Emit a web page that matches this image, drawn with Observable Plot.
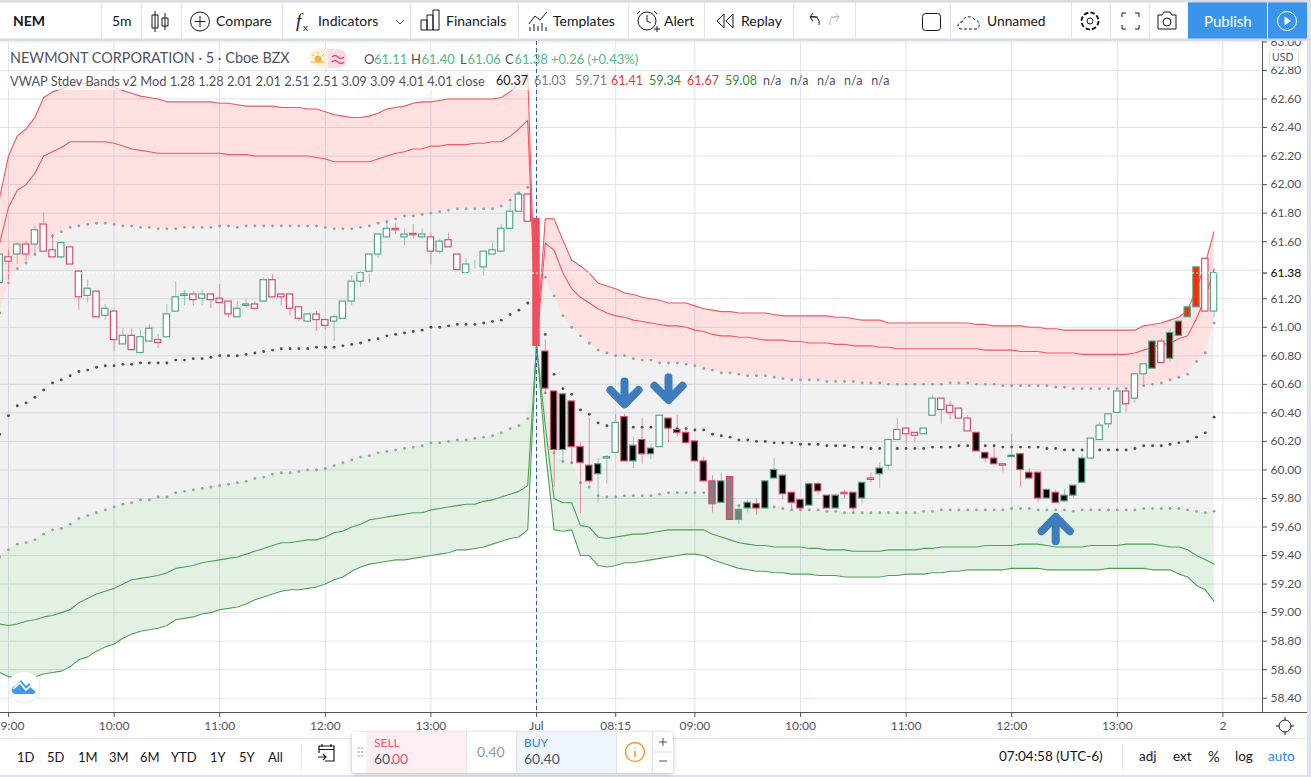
<!DOCTYPE html>
<html><head><meta charset="utf-8">
<script src="https://cdn.jsdelivr.net/npm/d3@7"></script>
<script src="https://cdn.jsdelivr.net/npm/@observablehq/plot@0.6"></script>
<style>
html,body{margin:0;padding:0;background:#e0e3eb;overflow:hidden}
#page{position:relative;width:1311px;height:777px;font-family:Lato,"Noto Sans",sans-serif;color:#131722;overflow:hidden}
.t{position:absolute;white-space:pre;line-height:1}
.box{position:absolute}
#chart{position:absolute;left:0;top:41px;width:1311px;height:697px;overflow:hidden}
</style></head><body><div id="page">
<div class="box" style="left:0;top:2px;width:1311px;height:37px;background:#fff"></div>
<div class="box" style="left:0;top:738px;width:1311px;height:37px;background:#fff"></div>
<div id="chart"></div>
<div class="box" style="left:1307px;top:0;width:4px;height:777px;background:#e0e3eb"></div>
</div>
<script>
const barIndex = d3.range(-61, 78);
const open = [61.31,61.49,61.51,61.58,61.58,61.72,61.54,61.49,61.56,61.39,61.22,61.25,61.08,61.11,60.88,60.94,60.82,60.90,60.91,60.93,61.11,61.22,61.23,61.20,61.23,61.20,61.18,61.07,61.15,61.16,61.18,
61.33,61.23,61.23,61.14,61.04,61.09,61.05,61.04,61.06,61.18,61.32,61.39,61.51,61.63,61.69,61.63,61.655,61.63,61.63,61.53,61.61,61.51,61.38,61.44,61.42,61.51,61.53,61.69,61.81,61.93,
61.76,60.83,60.55,60.14,60.48,60.16,60.03,59.97,60.08,60.12,60.37,60.06,60.21,60.11,60.16,60.36,60.28,60.26,60.20,60.06,59.92,59.77,59.95,59.65,59.73,59.76,59.73,59.94,59.96,59.84,59.79,59.75,59.90,59.82,59.73,59.84,59.84,59.80,59.94,59.97,
60.03,60.21,60.29,60.26,60.25,60.38,60.50,60.45,60.43,60.36,60.26,60.12,60.08,60.04,60.09,60.11,59.98,59.98,59.80,59.84,59.78,59.82,59.91,60.08,60.21,60.32,60.40,60.55,60.50,60.67,60.71,60.90,60.78,60.94,61.07,61.14,61.48,61.11];
const high = [61.51,61.54,61.59,61.60,61.71,61.80,61.65,61.60,61.56,61.39,61.33,61.25,61.16,61.11,60.99,60.99,60.98,61.02,60.95,61.16,61.32,61.26,61.25,61.26,61.23,61.30,61.18,61.18,61.20,61.18,61.34,
61.37,61.23,61.23,61.14,61.09,61.11,61.05,61.09,61.18,61.36,61.39,61.51,61.65,61.74,61.73,61.69,61.72,61.69,61.66,61.62,61.66,61.51,61.48,61.47,61.53,61.59,61.72,61.87,61.95,61.93,
61.76,60.91,60.55,60.53,60.48,60.19,60.36,60.08,60.10,60.39,60.39,60.23,60.36,60.18,60.38,60.36,60.38,60.29,60.20,60.09,59.96,59.98,59.95,59.76,59.79,59.80,59.92,60.08,59.96,59.84,59.79,59.91,59.91,59.82,59.83,59.86,59.84,59.91,59.98,60.05,
60.21,60.36,60.29,60.26,60.29,60.52,60.50,60.48,60.43,60.38,60.26,60.12,60.16,60.04,60.25,60.11,60.01,59.98,59.86,59.86,59.86,59.89,60.11,60.22,60.33,60.39,60.55,60.55,60.67,60.74,60.90,60.92,60.99,61.04,61.15,61.42,61.48,61.40];
const low = [61.31,61.33,61.44,61.46,61.51,61.53,61.49,61.48,61.44,61.12,61.17,61.07,61.05,60.83,60.88,60.83,60.81,60.90,60.85,60.93,61.11,61.15,61.15,61.15,61.13,61.17,61.06,61.07,61.13,61.13,61.18,
61.21,61.15,61.08,61.04,61.04,60.97,60.98,60.90,61.06,61.15,61.28,61.31,61.48,61.63,61.65,61.57,61.62,61.62,61.44,61.51,61.56,61.40,61.38,61.41,61.36,61.51,61.53,61.69,61.81,61.74,
60.87,60.53,59.88,60.05,60.04,59.69,59.90,59.77,59.90,60.12,60.06,60.01,60.04,60.07,60.16,60.19,60.23,60.18,60.06,59.92,59.70,59.77,59.65,59.62,59.70,59.68,59.73,59.94,59.79,59.72,59.71,59.75,59.82,59.73,59.73,59.80,59.69,59.76,59.91,59.87,
60.00,60.21,60.18,60.19,60.25,60.38,60.32,60.35,60.36,60.27,60.13,60.05,60.04,59.98,60.09,59.88,59.94,59.77,59.80,59.77,59.77,59.80,59.91,60.07,60.21,60.29,60.40,60.40,60.47,60.59,60.71,60.75,60.75,60.94,61.07,61.14,61.11,61.06];
const close = [61.51,61.46,61.58,61.51,61.68,61.53,61.49,61.59,61.44,61.21,61.27,61.07,61.13,60.91,60.94,60.84,60.93,60.99,60.89,61.09,61.21,61.23,61.19,61.23,61.19,61.17,61.09,61.13,61.16,61.13,61.33,
61.21,61.21,61.13,61.06,61.09,61.05,61.01,61.07,61.18,61.32,61.38,61.51,61.65,61.69,61.68,61.65,61.645,61.65,61.53,61.60,61.56,61.40,61.44,61.44,61.53,61.54,61.69,61.81,61.93,61.74,
60.87,60.57,60.14,60.53,60.16,60.05,59.92,60.04,60.09,60.33,60.06,60.17,60.11,60.15,60.38,60.29,60.26,60.19,60.06,59.92,59.76,59.92,59.65,59.72,59.77,59.73,59.92,60.00,59.83,59.77,59.73,59.90,59.85,59.73,59.82,59.83,59.73,59.91,59.93,60.01,
60.21,60.28,60.25,60.24,60.29,60.50,60.42,60.40,60.36,60.27,60.13,60.08,60.04,60.03,60.10,60.00,59.94,59.80,59.86,59.77,59.82,59.89,60.08,60.22,60.31,60.39,60.55,60.46,60.67,60.74,60.90,60.75,60.96,61.04,61.14,61.42,61.11,61.38];
const bodyPaint = [...Array(61).fill("hollow"),"flat",...Array(7).fill("black"),"hollow","hollow",...Array(4).fill("black"),"hollow",...Array(5).fill("black"),"gray","black","gray","slate",...Array(11).fill("black"),"hollow","black","black","hollow","black",...Array(10).fill("hollow"),"black","black","black","hollow",...Array(9).fill("black"),...Array(7).fill("hollow"),"maroon","hollow","maroon","maroon","orange","red","hollow","hollow"];

const band4Up = [61.91,62.20,62.34,62.39,62.47,62.61,62.65,62.67,62.70,62.71,62.71,62.71,62.70,62.68,62.66,62.64,62.62,62.61,62.60,62.58,62.58,62.58,62.58,62.58,62.58,62.57,62.57,62.56,62.55,62.55,62.55,
62.55,62.54,62.54,62.54,62.53,62.53,62.51,62.49,62.48,62.47,62.47,62.48,62.50,62.53,62.54,62.55,62.57,62.58,62.58,62.59,62.60,62.60,62.60,62.60,62.60,62.60,62.61,62.65,62.71,62.78,
60.88,61.76,61.76,61.61,61.47,61.43,61.38,61.31,61.29,61.27,61.24,61.23,61.21,61.20,61.19,61.17,61.17,61.17,61.15,61.13,61.12,61.11,61.11,61.10,61.10,61.10,61.10,61.09,61.08,61.08,61.08,61.08,61.08,61.08,61.07,61.07,61.06,61.05,61.05,61.05,
61.03,61.03,61.03,61.03,61.03,61.03,61.03,61.03,61.03,61.03,61.02,61.02,61.01,61.01,61.01,61.01,61.00,61.00,60.99,60.99,60.98,60.98,60.98,60.98,60.98,60.98,60.98,60.98,60.98,61.01,61.02,61.03,61.05,61.07,61.12,61.27,61.45,61.67];
const band3Up = [61.59,61.84,61.96,62.00,62.08,62.20,62.23,62.26,62.30,62.30,62.30,62.30,62.30,62.29,62.27,62.25,62.24,62.23,62.22,62.22,62.22,62.22,62.22,62.22,62.22,62.22,62.21,62.21,62.21,62.20,62.20,
62.20,62.20,62.20,62.20,62.20,62.19,62.18,62.16,62.16,62.16,62.16,62.16,62.18,62.20,62.22,62.23,62.25,62.25,62.27,62.27,62.28,62.28,62.28,62.29,62.29,62.30,62.30,62.34,62.39,62.45,
60.88,61.59,61.54,61.38,61.27,61.21,61.17,61.13,61.10,61.08,61.07,61.05,61.04,61.03,61.02,61.01,61.01,61.00,60.98,60.97,60.95,60.94,60.94,60.93,60.93,60.92,60.91,60.91,60.91,60.90,60.90,60.89,60.89,60.89,60.88,60.88,60.87,60.87,60.87,60.86,
60.86,60.85,60.85,60.85,60.85,60.85,60.85,60.85,60.85,60.85,60.85,60.84,60.84,60.84,60.84,60.83,60.83,60.83,60.82,60.82,60.82,60.82,60.81,60.81,60.81,60.81,60.81,60.81,60.82,60.84,60.86,60.88,60.89,60.92,60.94,61.06,61.21,61.41];
const bandUpper = [61.10,61.31,61.41,61.45,61.51,61.57,61.64,61.67,61.70,61.71,61.72,61.73,61.73,61.72,61.71,61.71,61.70,61.70,61.69,61.69,61.69,61.70,61.70,61.70,61.70,61.71,61.71,61.70,61.71,61.71,61.71,
61.71,61.71,61.71,61.71,61.71,61.71,61.70,61.69,61.69,61.69,61.70,61.71,61.73,61.74,61.76,61.78,61.78,61.79,61.80,61.81,61.82,61.83,61.83,61.83,61.83,61.83,61.85,61.89,61.94,61.98,
60.88,61.35,61.22,61.08,61.00,60.94,60.89,60.84,60.82,60.80,60.80,60.78,60.77,60.77,60.75,60.75,60.75,60.74,60.73,60.71,60.70,60.68,60.68,60.67,60.66,60.66,60.66,60.65,60.64,60.63,60.63,60.63,60.63,60.62,60.62,60.62,60.62,60.61,60.61,60.61,
60.60,60.60,60.60,60.60,60.60,60.60,60.60,60.61,60.61,60.61,60.60,60.60,60.60,60.59,60.59,60.59,60.59,60.59,60.59,60.58,60.58,60.57,60.57,60.57,60.57,60.57,60.57,60.57,60.57,60.59,60.60,60.61,60.63,60.65,60.67,60.76,60.82,61.03];
const vwap = [60.25,60.38,60.45,60.47,60.51,60.56,60.61,60.63,60.66,60.69,60.70,60.72,60.73,60.73,60.74,60.74,60.75,60.75,60.75,60.75,60.77,60.77,60.78,60.78,60.79,60.80,60.80,60.80,60.81,60.82,60.83,
60.84,60.85,60.85,60.85,60.85,60.86,60.86,60.86,60.87,60.88,60.89,60.91,60.92,60.94,60.95,60.96,60.97,60.98,61.00,61.00,61.01,61.02,61.02,61.02,61.03,61.04,61.05,61.09,61.12,61.17,
60.88,60.95,60.67,60.57,60.53,60.42,60.39,60.33,60.31,60.31,60.31,60.30,60.30,60.30,60.30,60.30,60.29,60.29,60.28,60.28,60.25,60.24,60.23,60.21,60.21,60.20,60.20,60.19,60.19,60.19,60.18,60.18,60.18,60.17,60.17,60.17,60.16,60.16,60.15,60.15,
60.15,60.15,60.15,60.15,60.15,60.16,60.16,60.16,60.17,60.17,60.16,60.17,60.17,60.16,60.16,60.16,60.16,60.16,60.15,60.15,60.14,60.14,60.14,60.14,60.14,60.14,60.14,60.14,60.15,60.17,60.17,60.17,60.18,60.19,60.20,60.23,60.26,60.37];
const bandLower = [59.39,59.44,59.48,59.49,59.51,59.55,59.58,59.59,59.62,59.66,59.68,59.70,59.72,59.74,59.76,59.77,59.79,59.79,59.81,59.81,59.84,59.85,59.86,59.87,59.88,59.89,59.90,59.91,59.92,59.94,59.95,
59.97,59.98,59.98,59.99,60.00,60.00,60.01,60.03,60.05,60.07,60.09,60.10,60.12,60.13,60.14,60.15,60.16,60.17,60.19,60.19,60.20,60.21,60.21,60.22,60.23,60.24,60.26,60.29,60.31,60.36,
60.88,60.54,60.12,60.06,60.05,59.91,59.88,59.82,59.81,59.81,59.82,59.82,59.82,59.82,59.83,59.84,59.84,59.84,59.84,59.84,59.81,59.79,59.77,59.75,59.74,59.74,59.74,59.74,59.73,59.72,59.72,59.72,59.72,59.71,59.71,59.70,59.70,59.70,59.70,59.70,
59.70,59.70,59.70,59.70,59.71,59.71,59.72,59.72,59.72,59.72,59.72,59.72,59.72,59.72,59.73,59.73,59.73,59.72,59.72,59.72,59.72,59.71,59.72,59.72,59.72,59.72,59.72,59.72,59.72,59.73,59.73,59.73,59.73,59.73,59.72,59.71,59.70,59.71];
const band3Dn = [58.92,58.91,58.92,58.94,58.95,58.97,58.98,59.00,59.02,59.07,59.10,59.13,59.15,59.17,59.20,59.23,59.24,59.25,59.26,59.28,59.31,59.32,59.33,59.35,59.36,59.37,59.38,59.39,59.41,59.43,59.45,
59.47,59.49,59.49,59.50,59.51,59.51,59.53,59.56,59.57,59.60,59.62,59.65,59.66,59.67,59.68,59.69,59.70,59.70,59.72,59.73,59.74,59.75,59.76,59.76,59.78,59.79,59.81,59.83,59.85,59.89,
60.88,60.31,59.80,59.77,59.77,59.61,59.60,59.53,59.52,59.53,59.54,59.55,59.55,59.56,59.57,59.58,59.58,59.58,59.58,59.58,59.55,59.53,59.51,59.49,59.48,59.47,59.47,59.46,59.46,59.46,59.46,59.45,59.45,59.44,59.44,59.44,59.43,59.43,59.43,59.43,
59.44,59.44,59.44,59.44,59.45,59.45,59.46,59.46,59.46,59.46,59.46,59.47,59.47,59.47,59.47,59.48,59.48,59.48,59.47,59.46,59.46,59.46,59.46,59.47,59.47,59.47,59.47,59.48,59.48,59.48,59.48,59.47,59.46,59.46,59.44,59.40,59.37,59.34];
const band4Dn = [58.58,58.55,58.55,58.55,58.55,58.57,58.58,58.59,58.62,58.67,58.69,58.73,58.76,58.78,58.82,58.85,58.87,58.88,58.89,58.91,58.95,58.96,58.97,58.99,59.00,59.02,59.03,59.04,59.06,59.09,59.11,
59.13,59.15,59.16,59.16,59.17,59.18,59.20,59.23,59.25,59.29,59.32,59.34,59.35,59.36,59.37,59.37,59.38,59.39,59.40,59.41,59.42,59.44,59.44,59.45,59.46,59.48,59.50,59.52,59.53,59.58,
60.88,60.14,59.58,59.57,59.58,59.40,59.40,59.33,59.32,59.33,59.35,59.35,59.36,59.37,59.38,59.39,59.40,59.41,59.41,59.40,59.37,59.35,59.33,59.31,59.30,59.29,59.29,59.28,59.28,59.27,59.27,59.27,59.26,59.26,59.26,59.25,59.25,59.25,59.25,59.25,
59.26,59.26,59.27,59.27,59.27,59.28,59.28,59.29,59.29,59.30,59.30,59.30,59.30,59.30,59.31,59.31,59.31,59.31,59.30,59.30,59.30,59.30,59.30,59.30,59.30,59.31,59.31,59.31,59.31,59.31,59.30,59.30,59.30,59.27,59.25,59.19,59.16,59.08];

const xTickBars = [-60,-48,-36,-24,-12,0,9,18,30,42,54,66,78];
const xTickLabels = ["9:00","10:00","11:00","12:00","13:00","Jul","08:15","09:00","10:00","11:00","12:00","13:00","2"];
const yGrid = d3.range(0,24).map(k => +(63 - k*0.2).toFixed(2));
const yLabels = yGrid.filter(v => v !== 61.4);
const lastPrice = 61.38;
const pointerBar = [10, 15, 59];
const pointerTail = [60.62, 60.65, 59.50];
const pointerTip = [60.46, 60.49, 59.67];
const headBars = 1.6, headPrice = 0.10;

const paintColor = {hollow:"#ffffff",flat:"#ef5060",black:"#000000",gray:"#808080",slate:"#6e8379",maroon:"#5a0a00",orange:"#e23a12",red:"#ff2a00"};
const rows = barIndex.map((b,k)=>({b,o:open[k],h:high[k],l:low[k],c:close[k],paint:bodyPaint[k],
  a:band4Up[k],e:band3Up[k],u:bandUpper[k],v:vwap[k],w:bandLower[k],f:band3Dn[k],g:band4Dn[k]}));
const up = d => d.c >= d.o;
const edge = d => up(d) ? "#4ea487" : "#d8476a";
const dots = rows.filter(d => d.b !== 0);
const xEnd = 82.5;
const pointerPath = pointerBar.flatMap((b,k)=>{
  const dir = Math.sign(pointerTail[k]-pointerTip[k]), tip = pointerTip[k];
  return [[b,pointerTail[k]],[b,tip],[b-headBars,tip+dir*headPrice],[b,tip],[b+headBars,tip+dir*headPrice]].map(([x,y])=>({k,x,y}));
});

const plot = Plot.plot({
  width:1311, height:697, marginLeft:0, marginRight:49, marginTop:0, marginBottom:26,
  x:{domain:[-60.909,xEnd]}, y:{domain:[58.30,63.003]},
  style:{fontFamily:"Lato, 'Noto Sans', sans-serif",fontSize:"12px",background:"#fff",color:"#50535e",overflow:"hidden"},
  marks:[
    Plot.gridX(xTickBars,{stroke:"#e0e3eb",strokeOpacity:1}),
    Plot.gridY(yGrid,{stroke:"#e0e3eb",strokeOpacity:1}),
    Plot.areaY(rows,{x:"b",y1:"a",y2:"u",fill:"#f44",fillOpacity:0.16}),
    Plot.areaY(rows,{x:"b",y1:"u",y2:"w",fill:"#7a7a80",fillOpacity:0.105}),
    Plot.areaY(rows,{x:"b",y1:"w",y2:"g",fill:"#3fa045",fillOpacity:0.15}),
    Plot.lineY(rows,{x:"b",y:"a",stroke:"#ef5a64",strokeWidth:1.1}),
    Plot.lineY(rows,{x:"b",y:"e",stroke:"#ef5a64",strokeWidth:1.1}),
    Plot.lineY(rows,{x:"b",y:"f",stroke:"#4f9e55",strokeWidth:1.1}),
    Plot.lineY(rows,{x:"b",y:"g",stroke:"#4f9e55",strokeWidth:1.1}),
    Plot.ruleX([0],{stroke:"#2f5aa8",strokeDasharray:"4 3",strokeWidth:1}),
    Plot.dot(dots,{x:"b",y:"u",r:1.45,fill:"#a0a0a0"}),
    Plot.dot(dots,{x:"b",y:"w",r:1.45,fill:"#a0a0a0"}),
    Plot.dot(dots,{x:"b",y:"v",r:1.45,fill:"#505050"}),
    Plot.ruleX(rows,{x:"b",y1:"l",y2:"h",stroke:edge,strokeOpacity:0.55,strokeWidth:1}),
    Plot.rect(rows,{x1:d=>d.b-0.36,x2:d=>d.b+0.36,y1:"o",y2:"c",fill:d=>paintColor[d.paint],stroke:d=>d.paint==="flat"?"#ef5060":edge(d),strokeWidth:1.15}),
    Plot.ruleY([lastPrice],{stroke:"#fff",strokeDasharray:"2 2",strokeWidth:1}),
    Plot.line(pointerPath,{x:"x",y:"y",z:"k",stroke:"#3d7cbd",strokeWidth:8,strokeLinecap:"round",strokeLinejoin:"round"}),
    Plot.ruleY([58.30],{stroke:"#50535e",strokeWidth:1}),
    Plot.ruleX([xEnd],{stroke:"#50535e",strokeWidth:1}),
    Plot.axisX(xTickBars,{anchor:"bottom",label:null,tickSize:5,tickPadding:4,stroke:"#50535e",fill:"#50535e",
      tickFormat:d=>d===-60?"":xTickLabels[xTickBars.indexOf(d)]}),
    Plot.text([-60],{x:d=>d,frameAnchor:"bottom",dy:14,dx:4,lineAnchor:"middle",text:d=>xTickLabels[xTickBars.indexOf(d)],fill:"#50535e"}),
    Plot.axisY(yLabels,{anchor:"right",label:null,tickSize:4,tickPadding:4,stroke:"#50535e",fill:"#50535e",tickFormat:d3.format(".2f")}),
    Plot.axisY([lastPrice],{anchor:"right",label:null,tickSize:4,tickPadding:4,stroke:"#131722",fill:"#131722",fontWeight:500,tickFormat:d3.format(".2f")})
  ]
});
document.getElementById("chart").appendChild(plot);

const page = document.getElementById("page");
function T(txt,left,cy,size,color,extra){
  const s=document.createElement("div");s.className="t";s.textContent=txt;
  s.style.cssText=`left:${left}px;top:${cy-size/2}px;font-size:${size}px;color:${color};${extra||""}`;
  page.appendChild(s);return s;
}
// chrome strips
page.insertAdjacentHTML("beforeend",`
<div class="box" style="left:0;top:738px;width:1311px;height:1px;background:#e0e3eb"></div>
<div class="box" style="left:0;top:72px;width:530px;height:18px;background:rgba(255,255,255,.65)"></div>
<div class="box" style="left:1262px;top:712px;width:45px;height:1px;background:#50535e"></div>
<div class="box" style="left:1188px;top:2px;width:79px;height:37px;background:#3b94ec"></div>
<div class="box" style="left:1268px;top:2px;width:39px;height:37px;background:#3b94ec"></div>
<div class="box" style="left:1269px;top:49px;width:28px;height:16px;background:#fff;border:1px solid #e0e3eb;border-radius:3px"></div>
<div class="box" style="left:309px;top:49px;width:19px;height:19px;background:#fff3dc;border-radius:9px 0 0 9px"></div>
<div class="box" style="left:328px;top:49px;width:19px;height:19px;background:#fbdbe4;border-radius:0 9px 9px 0"></div>
<div class="box" style="left:352px;top:732px;width:321px;height:41px;background:#fff;border-radius:3px;box-shadow:0 1px 4px rgba(0,0,0,.28)"></div>
<div class="box" style="left:366px;top:732px;width:100px;height:41px;background:#fdeff1"></div>
<div class="box" style="left:516px;top:732px;width:100px;height:41px;background:#eef5fc"></div>
<svg class="box" style="left:0;top:0" width="1311" height="777" fill="none" stroke="#131722" stroke-width="1">
 ${[101,141,181,282,410,518,628,704,793,855,950,1071,1110,1149].map(x=>`<path d="M${x+.5} 2V39" stroke="#e0e3eb"/>`).join("")}
 <path d="M0 39.5H1311M0 1.5H1311" stroke="#d6d9e2" stroke-width="2"/>
 <path d="M1122.5 745V770M301.5 745V770M466.5 732V773M516.5 732V773M616.5 732V773M652.5 732V773" stroke="#e0e3eb"/>
 <!-- toolbar icons -->
 <path d="M155 11V32M152 15H158V28H152ZM165 13V30M162 18H168V26H162Z" stroke-width="1"/>
 <circle cx="200" cy="21.5" r="9.5"/><path d="M200 16V27M194.5 21.5H205.5"/>
 <path d="M396 20l4 4 4-4" stroke="#50535e"/>
 <path d="M421 30V20H427V30M427 30V15H433V30M433 30V10H439V30M421 30H439"/>
 <path d="M529 24L535 16L540 20L547 12M530 31V27M534 31V24M538 31V26M542 31V23M546 31V27"/>
 <circle cx="647" cy="21" r="9"/><path d="M647 15V21L651 23M640 11L637 14M654 11L657 14M654 29H660M657 26V32"/>
 <path d="M724 14L717 21L724 28M733 14L726 21L733 28ZM724 14V28"/>
 <path d="M818 17H810M810 17L813 13M810 17L813 21M810 17C817 15 820 20 819 25"/>
 <path d="M831 17H839M839 17L836 13M839 17L836 21M839 17C832 15 829 20 830 25" stroke="#b2b5be"/>
 <rect x="922.5" y="13.5" width="18" height="17" rx="3"/>
 <path d="M962 29C956 29 957 22 962 22C963 16 972 15 975 20C980 20 981 29 976 29Z" stroke-dasharray="3 2"/>
 <circle cx="1090" cy="21" r="3"/><circle cx="1090" cy="21" r="8.5" stroke-dasharray="4.5 2.2" stroke-width="2"/>
 <path d="M1122 17V13H1126M1135 13H1139V17M1122 25V29H1126M1135 29H1139V25"/>
 <path d="M1158 15H1162L1164 12H1170L1172 15H1176V29H1158Z"/><circle cx="1167" cy="22" r="4"/>
 <circle cx="1287" cy="21" r="9.5" stroke="#fff"/><path d="M1284.5 16.5L1291 21L1284.5 25.5Z" fill="#fff" stroke="none"/>
 <!-- logo -->
 <circle cx="24" cy="687" r="16" fill="#fff" stroke="#e8e9ee"/>
 <path d="M15 694C10 693 11 687 15 686L21 680L26 686L29 683L33 688C37 689 36 694 33 694Z" fill="#3f9be8" stroke="none"/>
 <path d="M13 689L20 683L26 690L30 686L36 691" stroke="#fff" stroke-width="1.6"/>
 <!-- sun -->
 <circle cx="1285" cy="726" r="6" stroke="#131722"/><path d="M1285 717V720M1285 732V735M1276 726H1279M1291 726H1294" stroke="#131722"/>
 <!-- calendar -->
 <path d="M319 753V746H334V761H325M319 749.5H334M322 744V747M331 744V747M318 757H326M323 754L326 757L323 760" stroke-width="1.2"/>
 <path d="M358.5 748v.1M362 748v.1M358.5 752v.1M362 752v.1M358.5 756v.1M362 756v.1" stroke="#c4c7d0" stroke-width="2.5" stroke-linecap="round"/>
 <circle cx="635" cy="752" r="9.5" stroke="#f29b2a" stroke-width="1.4"/><path d="M635 751V757M635 747.5V748.5" stroke="#f29b2a" stroke-width="1.6"/>
 <path d="M659 742H667M663 738V746M659 761H667" stroke="#50535e"/><path d="M652 752H673" stroke="#e0e3eb"/>
 <!-- header icons -->
 <circle cx="318" cy="59" r="3.5" fill="#f7b341" stroke="none"/><path d="M311 62H325M318 52V54M312 54L314 56M324 54L322 56" stroke="#f7b341"/>
 <path d="M332 57Q335 54 338 57T344 57M332 62Q335 59 338 62T344 62" stroke="#e9447e" stroke-width="1.6"/>
</svg>`);

// toolbar text
T("NEM",13,21,14,"#131722","font-weight:700");
T("5m",112,21,14,"#131722");
T("Compare",216,21,14,"#131722");
T("f",296,20,19,"#131722","font-family:'Liberation Serif';font-style:italic");
T("x",303,27,10,"#131722");
T("Indicators",318,21,14,"#131722");
T("Financials",446,21,14,"#131722");
T("Templates",553,21,14,"#131722");
T("Alert",664,21,14,"#131722");
T("Replay",741,21,14,"#131722");
T("Unnamed",987,21,13.8,"#131722");
T("Publish",1204,21,15,"#fff");
T("USD",1272,57,10.5,"#50535e");
// legend
T("NEWMONT CORPORATION · 5 · Cboe BZX",10,58,14.4,"#50535e");
const g="#53b987";
T("O",364,59,13,"#50535e");T("61.11",374,59,13,g);
T("H",411,59,13,"#50535e");T("61.40",421.5,59,13,g);
T("L",460,59,13,"#50535e");T("61.06",467.5,59,13,g);
T("C",505,59,13,"#50535e");T("61.38",514.5,59,13,g);
T("+0.26 (+0.43%)",551,59,13,g);
T("VWAP Stdev Bands v2 Mod 1.28 1.28 2.01 2.01 2.51 2.51 3.09 3.09 4.01 4.01 close",10,81,12.83,"#50535e");
T("60.37",496,81,12.5,"#131722");
T("61.03",534,81,12.5,"#787b86");
T("59.71",575,81,12.5,"#787b86");
T("61.41",611,81,12.5,"#e53935");
T("59.34",649,81,12.5,"#2e8b3a");
T("61.67",687,81,12.5,"#e53935");
T("59.08",725,81,12.5,"#2e8b3a");
T("n/a n/a n/a n/a n/a",763,81,12.5,"#50535e","word-spacing:5.5px");
// bottom bar
[["1D",17],["5D",47],["1M",78],["3M",109],["6M",140],["YTD",171],["1Y",210],["5Y",239],["All",268]].forEach(([s,x])=>T(s,x,757,13,"#131722"));
T("SELL",374,743,12,"#ef5470");
T("60.",374,759,14,"#50535e");T("00",392,759,14,"#ef5470");
T("0.40",477,752,14,"#9598a1");
T("BUY",524,743,12,"#2f86e0");
T("60.40",524,759,14,"#50535e");
T("07:04:58 (UTC-6)",999,757,13.5,"#131722");
T("adj",1139,757,13.5,"#131722");
T("ext",1173,757,13.5,"#131722");
T("%",1208,757,14.5,"#131722");
T("log",1235,757,13.5,"#131722");
T("auto",1268,757,13.5,"#2f86e0");
</script></body></html>
